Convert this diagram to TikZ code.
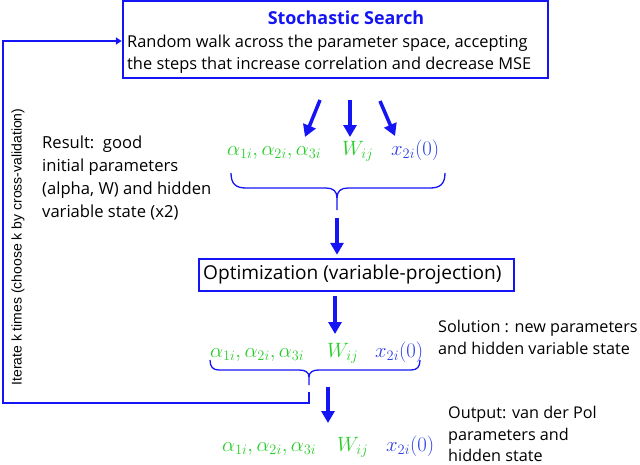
\documentclass[tikz,border=0pt]{standalone}
\usepackage{fontspec}
\setmainfont{Open Sans}
\newfontfamily\rotfont{Liberation Sans}
\usetikzlibrary{arrows.meta,calc}
\definecolor{bl}{RGB}{20,20,245}
\definecolor{gr}{RGB}{40,205,40}
\definecolor{xb}{RGB}{45,65,230}
\begin{document}
\begin{tikzpicture}[x=1pt,y=-1pt,
 box/.style={draw=bl,line width=2.5pt,inner sep=0pt},
 bigarrow/.style={-{Triangle[length=12pt,width=13pt]},line width=3.5pt,draw=bl},
 loopline/.style={line width=2.5pt,draw=bl},
 bracepath/.style={draw=bl,line width=1.3pt},
 mathg/.style={text=gr,font=\fontsize{20}{24}\selectfont,inner sep=0pt,anchor=base west},
 mathb/.style={text=xb,font=\fontsize{20}{24}\selectfont,inner sep=0pt,anchor=base west},
 body/.style={font=\fontsize{16.4}{22}\selectfont,inner sep=0pt,anchor=west},
 side/.style={font=\fontsize{16.6}{22.7}\selectfont,inner sep=0pt,anchor=west,align=left}
]
\useasboundingbox (0,0) rectangle (640,464);

% top box
\node[box,minimum width=425pt,minimum height=77pt] (search) at (335.5,39.5) {};
\node[font=\bfseries\fontsize{17.9}{22}\selectfont,text=bl,inner sep=0pt] (title) at (346,18) {Stochastic Search};
\node[body] (l1) at (127,43) {Random walk across the parameter space, accepting};
\node[body] (l2) at (127,65) {the steps that increase correlation and decrease MSE};

% row 1
\node[mathg] (a1) at (227,155) {$\alpha_{1i},\alpha_{2i},\alpha_{3i}$};
\node[mathg] (w1) at (342,155) {$W_{ij}$};
\node[mathb] (x1) at (391,155) {$x_{2i}(0)$};

\coordinate (s1) at (320,100); \coordinate (t1) at (305,137);
\coordinate (s2) at (350,100); \coordinate (t2) at (350,137);
\coordinate (s3) at (380,101); \coordinate (t3) at (395,136);
\draw[bigarrow] (s1) -- (t1);
\draw[bigarrow] (s2) -- (t2);
\draw[bigarrow] (s3) -- (t3);

% brace 1
\coordinate (b1) at (337,210);
\draw[bracepath] (231,173) .. controls (231,184) and (236,188) .. (246,188) -- (326,188)
  .. controls (333,188) and (337,191) .. (337,198) -- (b1);
\draw[bracepath] (445,173) .. controls (445,184) and (440,188) .. (430,188) -- (348,188)
  .. controls (341,188) and (337,191) .. (337,198);

\node[side] (result) at (42,178) {Result:\ \ good\\initial parameters\\(alpha, W) and hidden\\variable state (x2)};

% optimization box
\node[box,minimum width=315pt,minimum height=32pt] (opt) at (356.5,275) {};
\node[font=\fontsize{19.1}{22}\selectfont,inner sep=0pt,anchor=west] (optt) at (203,275) {Optimization (variable-projection)};
\draw[bigarrow,shorten <=8pt,shorten >=3pt] (b1) -- (b1 |- opt.north);

% row 2
\coordinate (o1) at (335,296); \coordinate (o2) at (335,334);
\draw[bigarrow] (o1) -- (o2);
\node[mathg] (a2) at (210,357) {$\alpha_{1i},\alpha_{2i},\alpha_{3i}$};
\node[mathg] (w2) at (327,357) {$W_{ij}$};
\node[mathb] (x2) at (375,357) {$x_{2i}(0)$};
\node[side,font=\fontsize{16.2}{22}\selectfont] (solution) at (438,337) {Solution : new parameters\\and hidden variable state};

% brace 2
\coordinate (b2) at (309,385);
\draw[bracepath] (210,360) .. controls (210,367) and (213,370) .. (219,370) -- (299,370)
  .. controls (305,370) and (309,372) .. (309,377) -- (b2);
\draw[bracepath] (420,360) .. controls (420,367) and (417,370) .. (411,370) -- (319,370)
  .. controls (313,370) and (309,372) .. (309,377);

% feedback loop
\coordinate (f1) at (309,392);
\coordinate (f2) at (309,403);
\coordinate (f3) at (3,403);
\coordinate (f4) at (3,41);
\draw[loopline,-{Triangle[length=6pt,width=7pt]}] (f1) -- (f2) -- (f3) -- (f4) -- (search.west |- f4);
\node[rotate=90,font=\rotfont\fontsize{14}{16}\selectfont,inner sep=0pt] (iter) at (18,247) {Iterate k times (choose k by cross-validation)};

% row 3
\coordinate (d1) at (328,387); \coordinate (d2) at (328,423);
\draw[bigarrow] (d1) -- (d2);
\node[mathg] (a3) at (222,451) {$\alpha_{1i},\alpha_{2i},\alpha_{3i}$};
\node[mathg] (w3) at (337,451) {$W_{ij}$};
\node[mathb] (x3) at (386,451) {$x_{2i}(0)$};
\node[side,font=\fontsize{16.2}{21.5}\selectfont] (output) at (448,434) {Output: van der Pol\\parameters and\\hidden state};
\end{tikzpicture}
\end{document}
